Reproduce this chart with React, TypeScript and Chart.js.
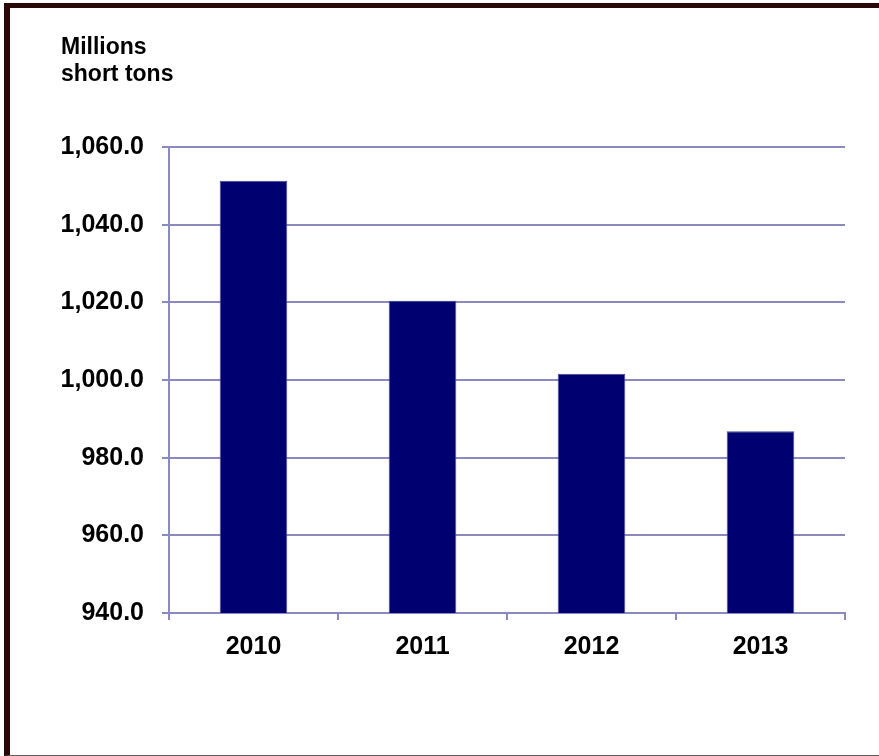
import { useEffect, useRef } from "react";
import { Chart, registerables } from "chart.js";

Chart.register(...registerables);

const categories: string[] = ["2010", "2011", "2012", "2013"];
const consumption: number[] = [1051.3, 1020.4, 1001.6, 986.8];
const yMin = 940;
const yMax = 1060;
const yStep = 20;
const unitLines: string[] = ["Millions", "short tons"];

const FONT = "'Liberation Sans', Arial, sans-serif";
const GRID = "#8a8ac0";
const BAR = "#000070";

const fmt = new Intl.NumberFormat("en-US", { minimumFractionDigits: 1, maximumFractionDigits: 1 });

export default function App() {
  const ref = useRef<HTMLCanvasElement | null>(null);

  useEffect(() => {
    if (!ref.current) return;
    const chart = new Chart(ref.current, {
      type: "bar",
      data: {
        labels: categories,
        datasets: [
          {
            data: consumption,
            backgroundColor: BAR,
            borderColor: "#4a4a9c",
            borderWidth: 1,
            barPercentage: 0.4,
            categoryPercentage: 1,
          },
        ],
      },
      options: {
        responsive: false,
        animation: false,
        devicePixelRatio: 1,
        layout: { padding: { left: 0, top: 147, right: 34, bottom: 0 } },
        plugins: { legend: { display: false }, tooltip: { enabled: false }, title: { display: false } },
        scales: {
          x: {
            afterFit: (s: any) => {
              s.height = 143;
            },
            grid: {
              display: true,
              drawOnChartArea: false,
              drawTicks: true,
              tickLength: 7,
              color: GRID,
              lineWidth: 2,
              offset: true,
            },
            border: { display: true, color: GRID, width: 2 },
            ticks: {
              color: "#000",
              font: { family: FONT, size: 25, weight: "bold" },
              padding: 12,
              maxRotation: 0,
            },
          },
          y: {
            min: yMin,
            max: yMax,
            afterFit: (s: any) => {
              s.width = 169;
            },
            grid: { color: GRID, lineWidth: 2, tickLength: 7, drawTicks: true },
            border: { display: true, color: GRID, width: 2 },
            ticks: {
              stepSize: yStep,
              color: "#000",
              padding: 18,
              font: { family: FONT, size: 25, weight: "bold" },
              callback: (v: any) => fmt.format(Number(v)),
            },
          },
        },
      },
    });
    return () => chart.destroy();
  }, []);

  return (
    <div>
      <div
        style={{
          position: "absolute",
          left: 4,
          top: 3,
          width: 875,
          height: 753,
          boxSizing: "border-box",
          borderTop: "5px solid #2a0808",
          borderLeft: "6px solid #2a0808",
          borderBottom: "1px solid #6a5a5a",
        }}
      />
      <canvas
        ref={ref}
        width={879}
        height={756}
        style={{ position: "absolute", left: 0, top: 0, width: 879, height: 756 }}
      />
      <div
        style={{
          position: "absolute",
          left: 61,
          top: 33,
          fontFamily: FONT,
          fontWeight: "bold",
          fontSize: 23,
          lineHeight: "27px",
          color: "#000",
        }}
      >
        {unitLines.map((l) => (
          <div key={l}>{l}</div>
        ))}
      </div>
    </div>
  );
}
